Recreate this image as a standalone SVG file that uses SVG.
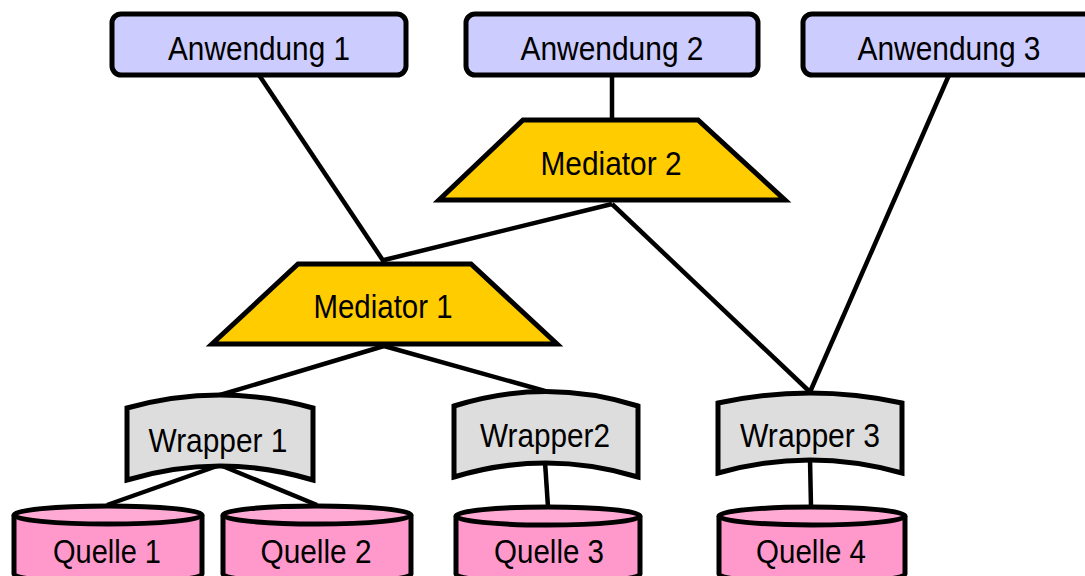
<svg xmlns="http://www.w3.org/2000/svg" width="1085" height="576" viewBox="0 0 1085 576">
<style>
.s{stroke:#000;stroke-width:5;stroke-linejoin:miter}
.app{fill:#ccccff}
.med{fill:#ffcc00}
.wr{fill:#dddddd}
.q{fill:#ff99cc}
.qt{fill:#ffaad4}
.c{fill:none;stroke:#000;stroke-width:4.5}
text{font-family:"Liberation Sans",Arial,sans-serif;font-size:34px;fill:#000;text-anchor:middle}
</style>
<rect width="1085" height="576" fill="#fff"/>
<g id="connectors">
<line class="c" x1="612" y1="75" x2="612" y2="120"/>
<line class="c" x1="259" y1="75" x2="384" y2="262"/>
<line class="c" x1="612" y1="204" x2="384" y2="260"/>
<line class="c" x1="612" y1="204" x2="810" y2="392"/>
<line class="c" x1="949" y1="75" x2="810" y2="392"/>
<line class="c" x1="384" y1="346" x2="220" y2="395"/>
<line class="c" x1="384" y1="346" x2="545" y2="391"/>
<line class="c" x1="220" y1="465" x2="107" y2="505"/>
<line class="c" x1="220" y1="465" x2="317" y2="505"/>
<line class="c" x1="545" y1="462" x2="548" y2="507"/>
<line class="c" x1="810" y1="459" x2="811" y2="507"/>
</g>
<g id="anwendung1"><rect class="s app" x="112" y="14" width="294" height="61" rx="9"/><text x="259" y="60" textLength="182" lengthAdjust="spacingAndGlyphs">Anwendung 1</text></g>
<g id="anwendung2"><rect class="s app" x="466" y="14" width="292" height="61" rx="9"/><text x="612" y="60" textLength="183" lengthAdjust="spacingAndGlyphs">Anwendung 2</text></g>
<g id="anwendung3"><rect class="s app" x="803" y="14" width="290" height="61" rx="9"/><text x="949" y="60" textLength="183" lengthAdjust="spacingAndGlyphs">Anwendung 3</text></g>
<g id="mediator2"><polygon class="s med" points="523,120 698,120 785,200 439,200"/><text x="611" y="175" textLength="141" lengthAdjust="spacingAndGlyphs">Mediator 2</text></g>
<g id="mediator1"><polygon class="s med" points="298,264 471,264 557,344 212,344"/><text x="383" y="318" textLength="139" lengthAdjust="spacingAndGlyphs">Mediator 1</text></g>
<g id="wrapper1"><path class="s wr" d="M127,408 Q220,382 313,408 L313,480 Q220,452 127,480 Z"/><text x="218" y="452" textLength="139" lengthAdjust="spacingAndGlyphs">Wrapper 1</text></g>
<g id="wrapper2"><path class="s wr" d="M454,406 Q546,377 638,406 L638,477 Q546,449 454,477 Z"/><text x="545" y="447" textLength="130" lengthAdjust="spacingAndGlyphs">Wrapper2</text></g>
<g id="wrapper3"><path class="s wr" d="M718,403 Q810,383 902,403 L902,473 Q810,447 718,473 Z"/><text x="810" y="447" textLength="140" lengthAdjust="spacingAndGlyphs">Wrapper 3</text></g>
<g id="quelle1"><path class="s q" d="M14,515 L14,574 A94,9 0 0 0 202,574 L202,515"/><ellipse class="s qt" cx="108" cy="515" rx="94" ry="9"/><text x="107" y="563" textLength="108" lengthAdjust="spacingAndGlyphs">Quelle 1</text></g>
<g id="quelle2"><path class="s q" d="M223,515 L223,574 A94,9 0 0 0 411,574 L411,515"/><ellipse class="s qt" cx="317" cy="515" rx="94" ry="9"/><text x="316" y="563" textLength="111" lengthAdjust="spacingAndGlyphs">Quelle 2</text></g>
<g id="quelle3"><path class="s q" d="M456,516 L456,574 A92,9 0 0 0 640,574 L640,516"/><ellipse class="s qt" cx="548" cy="516" rx="92" ry="9"/><text x="549" y="563" textLength="110" lengthAdjust="spacingAndGlyphs">Quelle 3</text></g>
<g id="quelle4"><path class="s q" d="M719,516 L719,574 A93,9 0 0 0 905,574 L905,516"/><ellipse class="s qt" cx="812" cy="516" rx="93" ry="9"/><text x="811" y="563" textLength="110" lengthAdjust="spacingAndGlyphs">Quelle 4</text></g>
</svg>
